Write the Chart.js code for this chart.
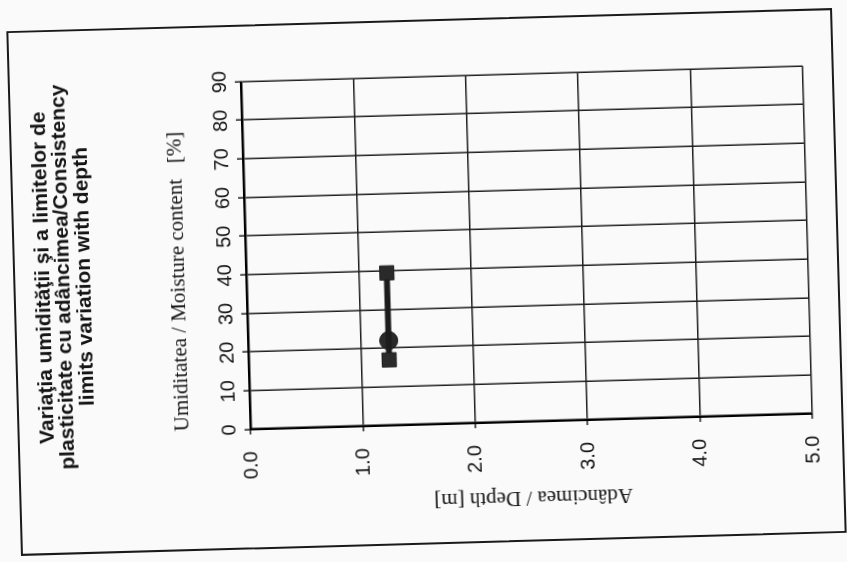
<!DOCTYPE html>
<html>
<head>
<meta charset="utf-8">
<title>Variaţia umidităţii</title>
<script src="https://cdn.jsdelivr.net/npm/chart.js@4.4.1/dist/chart.umd.min.js"></script>
<style>
    html, body {
        margin: 0;
        padding: 0;
        width: 847px;
        height: 562px;
        overflow: hidden;
        background: #fafafa;
    }
    /* the scanned sheet is turned on its side, a little crooked */
    .frame {
        position: absolute;
        left: 164px;
        top: -131px;
        width: 521px;
        height: 822px;
        border: 2px solid #1a1a1a;
        transform: rotate(-91.6deg);
        transform-origin: center center;
    }
    .frame canvas {
        display: block;
    }
</style>
</head>
<body>
<div class="frame">
    <canvas id="depthChart" width="521" height="822"></canvas>
</div>

<script>
// values
const depths = [1.25];           // m
const plasticLimit = [17];       // %
const liquidLimit = [39.5];      // %
const moistureContent = [22];    // %

const moistureTicks = [0, 10, 20, 30, 40, 50, 60, 70, 80, 90];
const depthTicks = [0.0, 1.0, 2.0, 3.0, 4.0, 5.0];

const titleLines = [
    'Variaţia umidităţii şi a limitelor de',
    'plasticitate cu adâncimea/Consistency',
    'limits variation with depth'
];
const moistureTitle = 'Umiditatea / Moisture content   [%]';
const depthTitle = 'Adâncimea / Depth [m]';

const ink = '#141414';
const sans = "'Liberation Sans', Arial, sans-serif";
const serif = "'Liberation Serif', 'Times New Roman', serif";

const limitPoints = [];
depths.forEach((d, i) => {
    limitPoints.push({ x: plasticLimit[i], y: d });
    limitPoints.push({ x: liquidLimit[i], y: d });
});
const moisturePoints = depths.map((d, i) => ({ x: moistureContent[i], y: d }));

const ctx = document.getElementById('depthChart').getContext('2d');

new Chart(ctx, {
    type: 'scatter',
    data: {
        datasets: [{
            label: 'Limits',
            data: limitPoints,
            showLine: true,
            borderColor: '#1c1c1c',
            borderWidth: 6,
            pointStyle: 'rect',
            pointRadius: 10,
            pointBackgroundColor: '#2a2a2a',
            pointBorderColor: '#1c1c1c',
            pointBorderWidth: 1
        }, {
            label: 'Moisture',
            data: moisturePoints,
            showLine: false,
            pointStyle: 'circle',
            pointRadius: 9,
            pointBackgroundColor: '#2a2a2a',
            pointBorderColor: '#1c1c1c',
            pointBorderWidth: 1
        }]
    },
    options: {
        responsive: false,
        animation: false,
        layout: {
            padding: { left: 30, right: 0, top: 0, bottom: 13 }
        },
        plugins: {
            legend: { display: false },
            tooltip: { enabled: false },
            title: {
                display: true,
                text: titleLines,
                color: ink,
                font: { family: sans, size: 21, weight: 'bold', lineHeight: 0.97 },
                padding: { top: 18, bottom: 51 }
            }
        },
        scales: {
            x: {
                type: 'linear',
                position: 'top',
                min: 0,
                max: 90,
                afterBuildTicks: scale => {
                    scale.ticks = moistureTicks.map(v => ({ value: v }));
                },
                afterFit: scale => {
                    scale.height = 101;
                },
                ticks: {
                    color: ink,
                    padding: 3,
                    maxRotation: 0,
                    font: { family: sans, size: 20 }
                },
                grid: {
                    color: '#1e1e1e',
                    lineWidth: 1.5,
                    tickLength: 6
                },
                border: { color: '#000', width: 2.5 },
                title: {
                    display: true,
                    text: moistureTitle,
                    align: 'start',
                    color: ink,
                    font: { family: serif, size: 21 },
                    padding: { top: 21, bottom: 0 }
                }
            },
            y: {
                type: 'linear',
                reverse: true,
                min: 0,
                max: 5,
                afterBuildTicks: scale => {
                    scale.ticks = depthTicks.map(v => ({ value: v }));
                },
                afterFit: scale => {
                    scale.width = 88;
                },
                ticks: {
                    color: ink,
                    padding: 17,
                    font: { family: sans, size: 20 },
                    callback: value => Number(value).toFixed(1)
                },
                grid: {
                    color: '#1e1e1e',
                    lineWidth: 1.5,
                    tickLength: 5
                },
                border: { color: '#000', width: 2.5 },
                title: {
                    display: true,
                    text: depthTitle,
                    color: ink,
                    font: { family: serif, size: 21 },
                    padding: { top: 0, bottom: 0 }
                }
            },
            // empty margin on the far side of the sheet
            margin: {
                type: 'linear',
                position: 'right',
                min: 0,
                max: 5,
                afterFit: scale => {
                    scale.width = 55;
                },
                ticks: { display: false },
                grid: { display: false },
                border: { display: false }
            }
        }
    }
});
</script>
</body>
</html>
